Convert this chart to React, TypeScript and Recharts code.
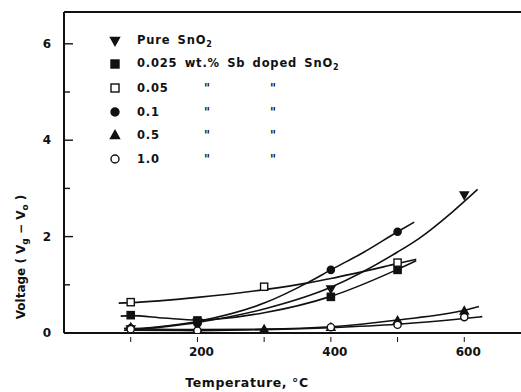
import React from "react";
import { ComposedChart, Line, Scatter, XAxis, YAxis, ReferenceLine } from "recharts";

// axis ticks
const tempTicks = [100, 200, 300, 400, 500, 600];
const tempLabels = [200, 400, 600];
const voltTicks = [0, 1, 2, 3, 4, 5, 6];
const voltLabels = [0, 2, 4, 6];
const tempMax = 685;
const voltMax = 6.66;

// measured points (temperature °C, voltage)
const pureT = [100, 200, 400, 600];
const pureV = [0.08, 0.22, 0.91, 2.86];
const sb025T = [100, 200, 400, 500];
const sb025V = [0.37, 0.26, 0.75, 1.31];
const sb05T = [100, 300, 500];
const sb05V = [0.64, 0.96, 1.46];
const sb1T = [100, 200, 400, 500];
const sb1V = [0.1, 0.2, 1.31, 2.1];
const sb5T = [100, 200, 300, 400, 500, 600];
const sb5V = [0.12, 0.07, 0.08, 0.12, 0.26, 0.46];
const sb10T = [100, 200, 400, 500, 600];
const sb10V = [0.08, 0.05, 0.12, 0.17, 0.33];

// hand-fitted curves through each set
const pureFitT = [100, 200, 300, 400, 500, 533, 582, 620];
const pureFitV = [0.06, 0.22, 0.5, 0.95, 1.68, 1.97, 2.51, 2.98];
const sb025FitT = [85, 100, 150, 200, 300, 400, 500, 528];
const sb025FitV = [0.35, 0.36, 0.31, 0.27, 0.42, 0.76, 1.32, 1.5];
const sb05FitT = [82, 100, 200, 300, 366, 400, 500, 528];
const sb05FitV = [0.62, 0.63, 0.74, 0.9, 1.04, 1.13, 1.44, 1.53];
const sb1FitT = [100, 200, 300, 366, 400, 450, 500, 525];
const sb1FitV = [0.08, 0.24, 0.62, 1.05, 1.31, 1.68, 2.1, 2.3];
const sb5FitT = [90, 200, 300, 400, 500, 600, 622];
const sb5FitV = [0.1, 0.07, 0.08, 0.13, 0.27, 0.47, 0.55];
const sb10FitT = [90, 200, 300, 400, 500, 600, 627];
const sb10FitV = [0.06, 0.05, 0.07, 0.11, 0.18, 0.3, 0.34];

const INK = "#111";

const toPts = (ts: number[], vs: number[]) => ts.map((t, i) => ({ t, v: vs[i] }));

type Kind = "triDown" | "square" | "circle" | "triUp";

const series = [
  { key: "pure", kind: "triDown" as Kind, filled: true, label: "Pure", ditto: false, pts: toPts(pureT, pureV), fit: toPts(pureFitT, pureFitV) },
  { key: "sb025", kind: "square" as Kind, filled: true, label: "0.025", ditto: false, pts: toPts(sb025T, sb025V), fit: toPts(sb025FitT, sb025FitV) },
  { key: "sb05", kind: "square" as Kind, filled: false, label: "0.05", ditto: true, pts: toPts(sb05T, sb05V), fit: toPts(sb05FitT, sb05FitV) },
  { key: "sb1", kind: "circle" as Kind, filled: true, label: "0.1", ditto: true, pts: toPts(sb1T, sb1V), fit: toPts(sb1FitT, sb1FitV) },
  { key: "sb5", kind: "triUp" as Kind, filled: true, label: "0.5", ditto: true, pts: toPts(sb5T, sb5V), fit: toPts(sb5FitT, sb5FitV) },
  { key: "sb10", kind: "circle" as Kind, filled: false, label: "1.0", ditto: true, pts: toPts(sb10T, sb10V), fit: toPts(sb10FitT, sb10FitV) },
];

function Mark({ kind, filled, cx, cy, s = 3.6 }: { kind: Kind; filled: boolean; cx: number; cy: number; s?: number }) {
  const fill = filled ? INK : "#fff";
  const common = { fill, stroke: INK, strokeWidth: 1.4 };
  if (kind === "square") return <rect x={cx - s} y={cy - s} width={2 * s} height={2 * s} {...common} />;
  if (kind === "circle") return <circle cx={cx} cy={cy} r={s} {...common} />;
  if (kind === "triDown")
    return <polygon points={`${cx - s - 0.5},${cy - s + 0.5} ${cx + s + 0.5},${cy - s + 0.5} ${cx},${cy + s + 0.5}`} {...common} />;
  return <polygon points={`${cx - s - 0.5},${cy + s - 0.5} ${cx + s + 0.5},${cy + s - 0.5} ${cx},${cy - s - 0.5}`} {...common} />;
}

const YTick = (props: any) => {
  const { x, y, payload } = props;
  const minor = !voltLabels.includes(payload.value);
  return (
    <g>
      <line x1={x} x2={x + (minor ? 6 : 9)} y1={y} y2={y} stroke={INK} strokeWidth={1.4} />
      {!minor && (
        <text x={x - 17} y={y} dy={4} textAnchor="middle" fontSize={12} fontWeight="bold" fill={INK}>
          {payload.value}
        </text>
      )}
    </g>
  );
};

const XTick = (props: any) => {
  const { x, y, payload } = props;
  const labelled = tempLabels.includes(payload.value);
  return (
    <g>
      <line x1={x} x2={x} y1={y + 4} y2={y + 9} stroke={INK} strokeWidth={1} />
      {labelled && (
        <text x={x + 4} y={y + 23} textAnchor="middle" fontSize={12} fontWeight="bold" fill={INK}>
          {payload.value}
        </text>
      )}
    </g>
  );
};

const YTitle = (props: any) => {
  const { viewBox } = props;
  const cx = viewBox.x + 21;
  const cy = viewBox.y + 245;
  return (
    <text transform={`translate(${cx},${cy}) rotate(-90)`} textAnchor="middle" dy={4} fontSize={12} fill={INK} fontWeight="bold">
      Voltage ( V<tspan fontSize={9} dy={3}>g</tspan>
      <tspan dy={-3}> − V</tspan>
      <tspan fontSize={9} dy={3}>o</tspan>
      <tspan dy={-3}> )</tspan>
    </text>
  );
};

const XTitle = (props: any) => {
  const { viewBox } = props;
  return (
    <text x={viewBox.x + 183} y={viewBox.y + 54} textAnchor="middle" fontSize={12.5} letterSpacing={0.6} fill={INK} fontWeight="bold">
      Temperature, °C
    </text>
  );
};

function LegendBox() {
  const textStyle: React.CSSProperties = { fontSize: 11.5, fontWeight: "bold", letterSpacing: 0.8, wordSpacing: 2.5, color: INK };
  return (
    <div style={{ position: "absolute", left: 106, top: 29, fontFamily: "'DejaVu Sans', sans-serif" }}>
      {series.map((s) => (
        <div key={s.key} style={{ position: "relative", height: 23.6, display: "flex", alignItems: "center" }}>
          <svg width={18} height={18} style={{ display: "block" }}>
            <Mark kind={s.kind} filled={s.filled} cx={9} cy={9} s={4} />
          </svg>
          <span style={{ ...textStyle, marginLeft: 13 }}>
            {s.key === "pure" ? (
              <>Pure SnO<sub style={{ fontSize: 8 }}>2</sub></>
            ) : s.key === "sb025" ? (
              <>0.025 wt.% Sb doped SnO<sub style={{ fontSize: 8 }}>2</sub></>
            ) : (
              s.label
            )}
          </span>
          {s.ditto && (
            <>
              <span style={{ ...textStyle, position: "absolute", left: 98 }}>"</span>
              <span style={{ ...textStyle, position: "absolute", left: 164 }}>"</span>
            </>
          )}
        </div>
      ))}
    </div>
  );
}

export default function App() {
  return (
    <div style={{ position: "absolute", left: 0, top: 0, width: 521, height: 392, background: "#fff", fontFamily: "'DejaVu Sans', sans-serif" }}>
      <ComposedChart width={521} height={392} margin={{ top: 12, right: 0, bottom: 0, left: 0 }}>
        <XAxis
          dataKey="t"
          type="number"
          domain={[0, tempMax]}
          ticks={tempTicks}
          allowDataOverflow
          height={59}
          tickSize={0}
          tickMargin={0}
          tick={<XTick />}
          axisLine={{ stroke: INK, strokeWidth: 2 }}
          label={<XTitle />}
        />
        <YAxis
          dataKey="v"
          type="number"
          domain={[0, voltMax]}
          ticks={voltTicks}
          allowDataOverflow
          width={64}
          tickSize={0}
          tickMargin={0}
          tick={<YTick />}
          axisLine={{ stroke: INK, strokeWidth: 2 }}
          label={<YTitle />}
        />
        <ReferenceLine y={voltMax} stroke={INK} strokeWidth={2} />
        {series.map((s) => (
          <Line
            key={`${s.key}-fit`}
            data={s.fit}
            dataKey="v"
            type="monotone"
            stroke={INK}
            strokeWidth={1.6}
            dot={false}
            activeDot={false}
            isAnimationActive={false}
          />
        ))}
        {series.map((s) => (
          <Scatter
            key={`${s.key}-pts`}
            data={s.pts}
            dataKey="v"
            isAnimationActive={false}
            shape={(p: any) => <Mark kind={s.kind} filled={s.filled} cx={p.cx} cy={p.cy} />}
          />
        ))}
      </ComposedChart>
      <LegendBox />
    </div>
  );
}
